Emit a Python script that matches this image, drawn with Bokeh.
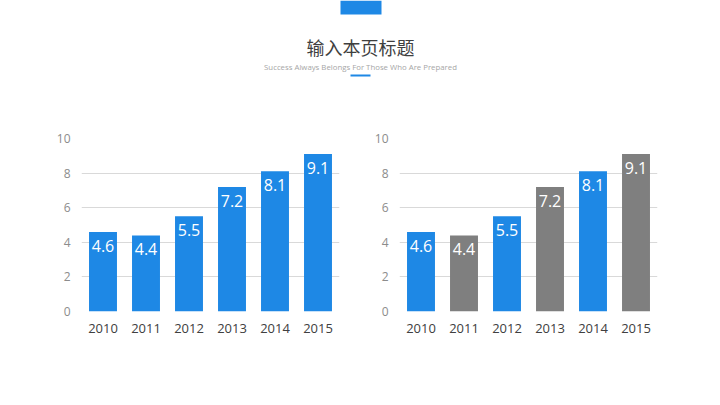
from bokeh.plotting import figure
from bokeh.layouts import column, row
from bokeh.models import ColumnDataSource, LabelSet, Range1d, FactorRange, FixedTicker
from bokeh.core.properties import value
from bokeh.embed import file_html
from bokeh.resources import INLINE

# ---- data ----
years = ["2010", "2011", "2012", "2013", "2014", "2015"]
values_left = [4.6, 4.4, 5.5, 7.2, 8.1, 9.1]
values_right = [4.6, 4.4, 5.5, 7.2, 8.1, 9.1]
BLUE = "#1E88E5"
GRAY = "#7F7F7F"
colors_left = [BLUE, BLUE, BLUE, BLUE, BLUE, BLUE]
colors_right = [BLUE, GRAY, BLUE, GRAY, BLUE, GRAY]
y_ticks = [0, 2, 4, 6, 8, 10]
title_text = "输入本页标题"
subtitle_text = "Success Always Belongs For Those Who Are Prepared"

FONT = "Open Sans"

# ---- header ----
header = figure(width=720, height=120, x_range=Range1d(0, 720), y_range=Range1d(120, 0),
                output_backend="svg", toolbar_location=None,
                min_border=0, min_border_left=0, min_border_right=0,
                min_border_top=0, min_border_bottom=0)
header.axis.visible = False
header.grid.visible = False
header.outline_line_color = None
header.quad(left=[340], right=[381], top=[0], bottom=[14], color=BLUE, line_color=None)
header.text(x=[360], y=[46], text=[title_text], text_font=value("Noto Sans CJK SC"),
            text_font_size="18px", text_color="#3F3F3F", text_align="center",
            text_baseline="middle")
header.text(x=[360], y=[66], text=[subtitle_text], text_font=value(FONT),
            text_font_size="7.8px", text_color="#A6A6A6", text_align="center",
            text_baseline="middle")
header.quad(left=[350], right=[370], top=[74], bottom=[76], color=BLUE, line_color=None)


def make_chart(vals, cols, bl, br):
    src = ColumnDataSource(dict(x=years, top=vals, color=cols,
                                label=[f"{v:.1f}" for v in vals]))
    p = figure(width=360, height=285, x_range=FactorRange(*years, range_padding=0),
               y_range=Range1d(0, 10), output_backend="svg", toolbar_location=None,
               min_border_left=bl, min_border_right=br, min_border_top=18,
               min_border_bottom=94)
    p.vbar(x="x", top="top", width=0.65, color="color", line_color=None, source=src)
    labels = LabelSet(x="x", y="top", text="label", source=src, text_color="white",
                      text_font=value(FONT), text_font_size="16px", text_align="center",
                      text_baseline="middle", y_offset=-14)
    p.add_layout(labels)
    p.outline_line_color = None
    p.xgrid.visible = False
    p.ygrid.grid_line_color = "#D9D9D9"
    p.ygrid.grid_line_width = 1
    p.yaxis.ticker = FixedTicker(ticks=y_ticks)
    for ax in (p.xaxis[0], p.yaxis[0]):
        ax.axis_line_color = None
        ax.major_tick_line_color = None
        ax.minor_tick_line_color = None
        ax.major_tick_out = 0
        ax.major_tick_in = 0
        ax.major_label_text_font = FONT
    p.yaxis.major_label_text_font_size = "12px"
    p.yaxis.major_label_text_color = "#8C8C8C"
    p.yaxis.major_label_standoff = 11
    p.xaxis.major_label_text_font_size = "13px"
    p.xaxis.major_label_text_color = "#404040"
    p.xaxis.major_label_standoff = 12
    return p


left = make_chart(values_left, colors_left, 81, 21)
right = make_chart(values_right, colors_right, 39, 63)

layout = column(header, row(left, right, spacing=0), spacing=0)

open("out.html", "w").write(file_html(layout, INLINE))
